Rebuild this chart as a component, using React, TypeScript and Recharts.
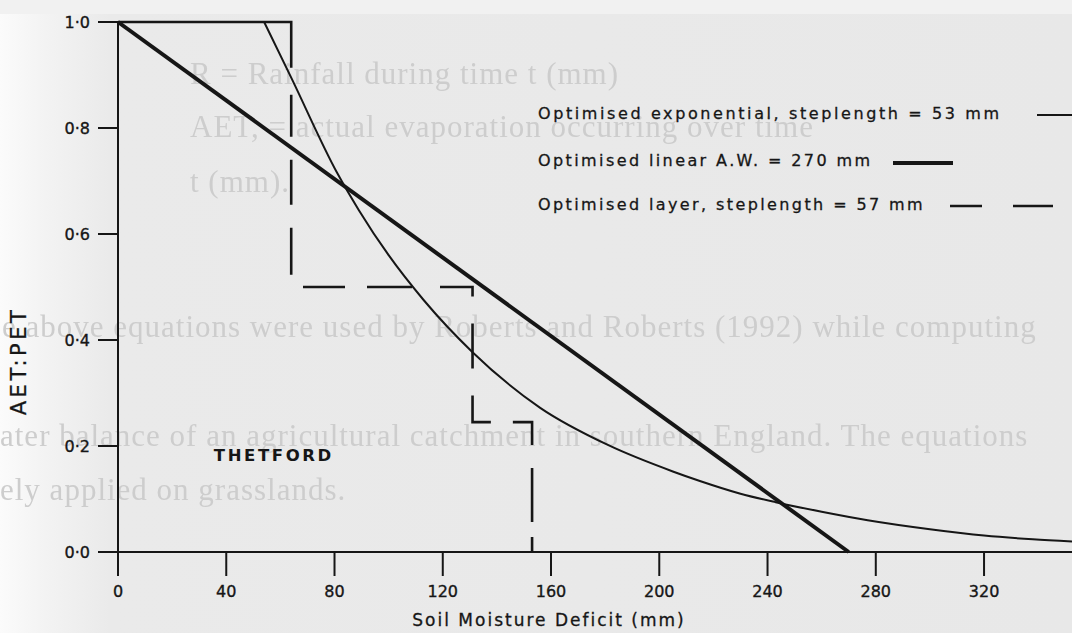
import { LineChart, Line, XAxis, YAxis, ReferenceDot } from "recharts"

// Optimised exponential model (flat at 1·0 up to the step length, then decaying)
const expDeficit = [54, 64, 81, 89, 100, 113, 131, 156, 181, 205, 215, 230, 243, 260, 277, 300, 320, 338, 352.5]
const expRatio = [1.0, 0.895, 0.715, 0.645, 0.56, 0.475, 0.377, 0.272, 0.202, 0.152, 0.134, 0.11, 0.094, 0.076, 0.06, 0.043, 0.031, 0.024, 0.02]

// Optimised linear model, available water = 270 mm
const linDeficit = [0, 270]
const linRatio = [1.0, 0.0]

// Optimised layer model (stepped)
const layerDeficit = [0, 64, 64, 131, 131, 153, 153]
const layerRatio = [1.0, 1.0, 0.5, 0.5, 0.245, 0.245, 0.0]

const xTicks = [0, 40, 80, 120, 160, 200, 240, 280, 320]
const yTicks = [0, 0.2, 0.4, 0.6, 0.8, 1.0]

const legendLabels = [
  "Optimised exponential, steplength = 53 mm",
  "Optimised linear A.W. = 270 mm",
  "Optimised layer, steplength = 57 mm",
]

// faint lines of the facing page showing through the scan
const pageLines = [
  { text: "R = Rainfall during time t (mm)", left: 190, top: 56 },
  { text: "AET, = actual evaporation occurring over time", left: 190, top: 109 },
  { text: "t (mm).", left: 190, top: 164 },
  { text: "e above equations were used by Roberts and Roberts (1992) while computing", left: 2, top: 309 },
  { text: "ater balance of an agricultural catchment in southern England. The equations", left: 0, top: 418 },
  { text: "ely applied on grasslands.", left: 0, top: 472 },
]

const zip = (xs: number[], ys: number[]) => xs.map((x, i) => ({ x, y: ys[i] }))

const expData = zip(expDeficit, expRatio)
const linData = zip(linDeficit, linRatio)
const layerData = zip(layerDeficit, layerRatio)

const INK = "#161616"
const FONT = "'DejaVu Sans', sans-serif"
const fmt = (v: number) => v.toFixed(1).replace(".", "·")

function LegendBox() {
  const row = {
    position: "absolute" as const,
    left: 0,
    fontSize: 16,
    letterSpacing: 2.6,
    whiteSpace: "nowrap" as const,
    color: INK,
    WebkitTextStroke: "0.3px #161616",
  }
  return (
    <div style={{ position: "absolute", left: 538, top: 100, width: 534, height: 130, fontFamily: FONT }}>
      <div style={{ ...row, top: 4 }}>{legendLabels[0]}</div>
      <div style={{ ...row, top: 51, letterSpacing: 2.4 }}>{legendLabels[1]}</div>
      <div style={{ ...row, top: 95, letterSpacing: 2.4 }}>{legendLabels[2]}</div>
      <svg width={534} height={130} style={{ position: "absolute", left: 0, top: 0 }}>
        <line x1={499} x2={540} y1={15} y2={15} stroke={INK} strokeWidth={2} />
        <line x1={355} x2={415} y1={63} y2={63} stroke={INK} strokeWidth={4} />
        <line x1={412} x2={444} y1={106} y2={106} stroke={INK} strokeWidth={2.5} />
        <line x1={475} x2={515} y1={106} y2={106} stroke={INK} strokeWidth={2.5} />
      </svg>
    </div>
  )
}

export default function App() {
  const tickStyle = { fill: INK, fontSize: 16, fontFamily: FONT, stroke: INK, strokeWidth: 0.35 }
  return (
    <div
      style={{
        position: "absolute",
        left: 0,
        top: 0,
        width: 1072,
        height: 633,
        overflow: "hidden",
        background: "linear-gradient(to right, #fbfbfb 0px, #f3f3f3 45px, #eaeaea 110px, #e8e8e8 100%)",
      }}
    >
      <div style={{ position: "absolute", left: 0, top: 0, width: 1072, height: 14, background: "#f1f1f1" }} />
      {pageLines.map((l) => (
        <div
          key={l.text}
          style={{
            position: "absolute",
            left: l.left,
            top: l.top,
            fontFamily: "'Liberation Serif', serif",
            fontSize: 31,
            letterSpacing: 1,
            whiteSpace: "nowrap",
            color: "#cdcdcd",
            filter: "blur(0.7px)",
          }}
        >
          {l.text}
        </div>
      ))}
      <div style={{ position: "absolute", left: 0, top: 0 }}>
        <LineChart width={1072} height={633} margin={{ top: 22, right: 0, bottom: 0, left: 0 }}>
          <XAxis
            type="number"
            dataKey="x"
            domain={[0, 352.5]}
            ticks={xTicks}
            height={81}
            tickSize={24}
            tickMargin={10}
            axisLine={{ stroke: INK, strokeWidth: 2 }}
            tickLine={{ stroke: INK, strokeWidth: 2 }}
            tick={tickStyle}
            label={{
              content: () => (
                <text
                  x={549}
                  y={626}
                  textAnchor="middle"
                  fill={INK}
                  stroke={INK}
                  strokeWidth={0.3}
                  fontSize={17}
                  fontFamily={FONT}
                  letterSpacing={2}
                >
                  Soil Moisture Deficit (mm)
                </text>
              ),
            }}
          />
          <YAxis
            type="number"
            dataKey="y"
            domain={[0, 1]}
            ticks={yTicks}
            width={118}
            tickSize={20}
            tickMargin={8}
            tickFormatter={fmt}
            axisLine={{ stroke: INK, strokeWidth: 2 }}
            tickLine={{ stroke: INK, strokeWidth: 2 }}
            tick={tickStyle}
            label={{
              content: () => (
                <text
                  x={26}
                  y={361}
                  transform="rotate(-90 26 361)"
                  textAnchor="middle"
                  fill={INK}
                  stroke={INK}
                  strokeWidth={0.3}
                  fontSize={21}
                  fontFamily={FONT}
                  letterSpacing={3.5}
                >
                  AET:PET
                </text>
              ),
            }}
          />
          <Line
            data={layerData}
            dataKey="y"
            type="linear"
            stroke={INK}
            strokeWidth={2.6}
            strokeDasharray="219 27 42 23 45 23 47 24 42 22 45 28 42 27 45 27 45 22 42 23 54 15 15"
            dot={false}
            activeDot={false}
            isAnimationActive={false}
          />
          <Line
            data={expData}
            dataKey="y"
            type="monotone"
            stroke={INK}
            strokeWidth={2}
            dot={false}
            activeDot={false}
            isAnimationActive={false}
          />
          <Line
            data={linData}
            dataKey="y"
            type="linear"
            stroke={INK}
            strokeWidth={4}
            dot={false}
            activeDot={false}
            isAnimationActive={false}
          />
          <ReferenceDot
            x={57.6}
            y={0.183}
            r={0}
            fill="none"
            stroke="none"
            label={{ value: "THETFORD", position: "center", fill: INK, fontSize: 16.5, fontWeight: 700, fontFamily: FONT, letterSpacing: 2.6 }}
          />
        </LineChart>
      </div>
      <LegendBox />
    </div>
  )
}
